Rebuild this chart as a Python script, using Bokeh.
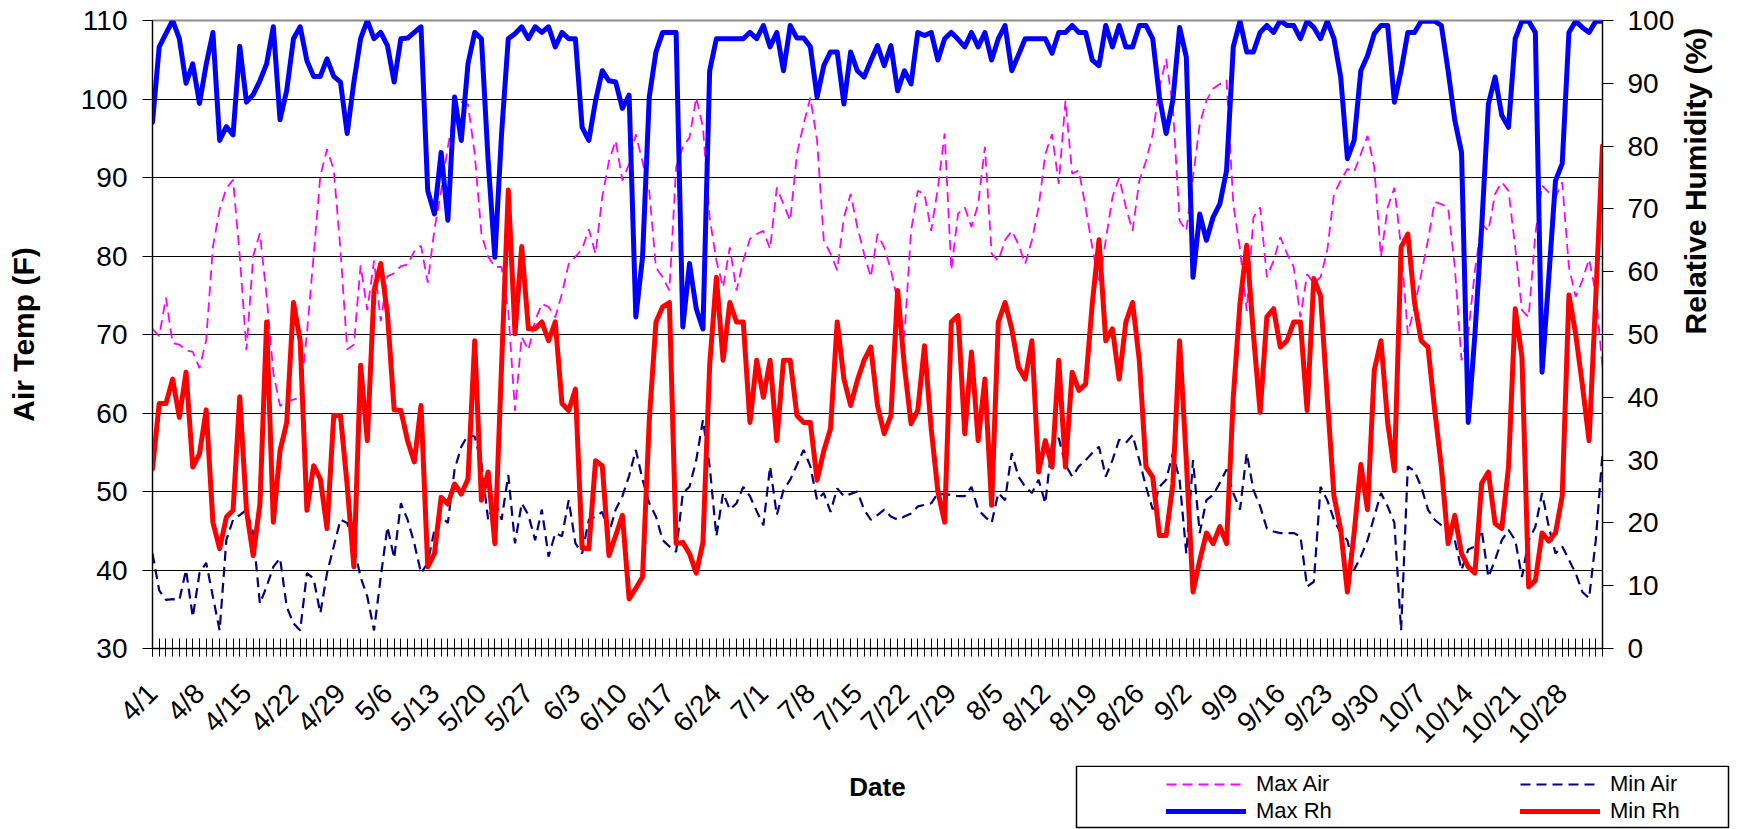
import math
from bokeh.plotting import figure
from bokeh.layouts import column
from bokeh.models import (Range1d, LinearAxis, FixedTicker, Legend, LegendItem,
                          BoxAnnotation, ColumnDataSource, Label)
from bokeh.embed import file_html
from bokeh.resources import INLINE

# Daily readings, 4/1 through 11/3 (one row = one week)
MAX_AIR = [
    70.7, 69.8, 74.7, 68.9, 68.7, 68.0, 67.8,
    65.7, 69.3, 81.2, 85.9, 88.6, 89.7, 80.0,
    68.0, 80.0, 82.9, 74.9, 65.1, 60.9, 61.5,
    61.7, 62.0, 70.1, 80.0, 90.2, 93.6, 91.0,
    80.8, 68.1, 68.7, 78.8, 73.1, 79.4, 71.7,
    77.4, 77.8, 78.7, 78.9, 80.6, 81.3, 76.6,
    83.4, 88.3, 93.9, 98.5, 99.6, 99.3, 93.0,
    82.8, 79.9, 78.6, 78.6, 73.0, 60.3, 69.7,
    68.0, 71.8, 73.9, 73.5, 72.2, 75.2, 79.0,
    79.9, 80.9, 83.4, 80.3, 87.5, 92.1, 94.7,
    89.6, 91.7, 95.5, 92.0, 88.3, 78.5, 77.3,
    75.6, 91.3, 93.9, 95.1, 100.2, 96.4, 84.9,
    79.4, 76.0, 81.1, 75.6, 79.4, 82.2, 82.8,
    83.2, 80.9, 88.7, 86.6, 84.5, 93.0, 96.8,
    100.2, 94.7, 82.0, 80.3, 78.2, 84.9, 87.9,
    83.7, 80.3, 77.3, 82.8, 81.1, 78.2, 74.3,
    69.7, 83.2, 88.3, 87.9, 83.2, 88.7, 95.6,
    78.2, 85.4, 86.2, 83.7, 86.6, 93.9, 80.3,
    79.4, 82.0, 83.2, 81.5, 79.0, 82.0, 86.2,
    93.0, 95.5, 89.2, 99.8, 90.5, 90.9, 86.2,
    81.1, 76.5, 82.0, 87.5, 90.0, 86.2, 83.2,
    89.6, 92.1, 95.5, 101.5, 105.1, 99.0, 84.5,
    83.2, 90.0, 96.8, 99.8, 101.3, 101.9, 102.4,
    86.6, 80.9, 73.0, 84.9, 86.2, 77.3, 79.4,
    82.4, 80.3, 78.6, 72.2, 77.7, 76.5, 77.3,
    80.7, 87.9, 89.6, 91.1, 90.7, 93.0, 95.3,
    91.3, 79.9, 86.2, 88.7, 81.1, 70.1, 73.5,
    77.7, 82.0, 86.9, 86.6, 86.2, 78.6, 66.7,
    70.1, 78.2, 84.1, 83.2, 87.9, 89.4, 88.3,
    81.1, 73.1, 72.2, 82.8, 89.0, 88.1, 87.5,
    89.4, 78.6, 74.8, 76.9, 79.6, 75.2, 65.8,
]

MIN_AIR = [
    42.1, 37.4, 36.2, 36.3, 36.2, 40.0, 34.0,
    39.6, 40.9, 36.6, 32.3, 43.8, 46.4, 47.0,
    47.7, 44.7, 35.7, 37.9, 40.4, 41.5, 35.3,
    33.2, 32.3, 39.6, 38.9, 34.5, 39.6, 43.0,
    46.4, 46.0, 43.0, 39.1, 36.6, 32.3, 39.1,
    45.5, 41.5, 48.5, 46.4, 43.4, 39.6, 40.9,
    45.1, 46.8, 46.0, 52.8, 55.7, 57.2, 57.0,
    53.6, 46.4, 48.9, 46.4, 52.1, 43.4, 48.5,
    47.0, 43.8, 47.7, 41.7, 44.7, 44.3, 48.9,
    43.4, 42.1, 46.4, 46.8, 47.4, 44.7, 47.7,
    49.4, 52.0, 55.3, 51.5, 48.5, 46.8, 43.8,
    43.0, 42.3, 49.8, 50.6, 54.0, 59.1, 53.2,
    44.3, 49.8, 47.7, 48.5, 50.6, 49.4, 47.5,
    45.7, 53.2, 47.0, 50.2, 51.5, 53.4, 55.3,
    53.2, 48.9, 49.8, 47.4, 50.4, 49.4, 49.7,
    50.0, 47.7, 46.4, 47.0, 47.7, 46.8, 46.4,
    46.8, 47.2, 48.1, 48.3, 48.5, 49.8, 49.6,
    49.6, 49.4, 49.4, 50.6, 47.7, 46.8, 46.0,
    49.8, 48.9, 54.9, 51.9, 50.6, 49.8, 51.5,
    48.5, 56.2, 56.8, 53.4, 51.9, 53.2, 54.0,
    54.9, 55.7, 51.9, 54.0, 56.6, 56.2, 57.2,
    54.0, 50.6, 47.7, 50.6, 51.5, 54.9, 51.5,
    42.1, 54.0, 44.7, 48.9, 49.6, 51.1, 52.8,
    49.8, 47.7, 54.9, 50.2, 48.1, 45.3, 44.9,
    44.7, 44.7, 44.7, 44.3, 37.9, 38.5, 50.6,
    48.9, 46.4, 44.7, 43.8, 40.0, 41.7, 43.8,
    46.8, 49.8, 48.1, 46.0, 32.3, 53.2, 52.6,
    50.6, 47.7, 46.4, 45.7, 45.5, 43.8, 40.0,
    42.6, 43.0, 45.1, 39.1, 41.3, 43.8, 45.1,
    43.8, 39.1, 43.8, 45.5, 49.8, 45.5, 42.1,
    43.0, 41.3, 39.6, 37.2, 36.4, 43.8, 54.9,
]

MAX_RH = [
    83.8, 95.8, 97.9, 100.0, 97.1, 90.0, 93.1,
    86.8, 93.0, 98.1, 80.9, 83.1, 81.8, 95.9,
    87.0, 88.2, 90.4, 93.1, 99.0, 84.2, 88.9,
    97.1, 99.0, 93.6, 91.1, 91.1, 93.9, 91.1,
    90.2, 82.0, 90.2, 97.1, 100.0, 97.1, 98.1,
    96.0, 90.2, 97.1, 97.2, 98.1, 99.0, 72.9,
    69.2, 79.0, 68.2, 87.8, 80.9, 93.1, 98.1,
    97.1, 77.7, 62.3, 82.0, 97.1, 97.9, 99.0,
    97.1, 99.0, 98.1, 99.0, 95.8, 98.1, 97.1,
    97.1, 83.0, 80.9, 87.2, 92.0, 90.4, 90.2,
    86.0, 88.1, 52.8, 62.3, 87.8, 95.0, 98.1,
    98.1, 98.1, 51.2, 61.3, 54.1, 50.9, 92.0,
    97.1, 97.1, 97.1, 97.1, 97.1, 98.1, 97.1,
    99.2, 95.8, 98.1, 92.0, 99.2, 97.2, 97.2,
    95.8, 87.8, 92.8, 95.0, 95.0, 86.7, 95.0,
    92.0, 91.0, 93.6, 96.0, 92.8, 96.0, 88.8,
    92.0, 89.9, 98.1, 97.6, 98.1, 93.7, 97.1,
    98.1, 97.0, 95.8, 98.1, 95.8, 98.1, 93.7,
    97.1, 99.2, 92.0, 94.5, 97.1, 97.1, 97.1,
    97.1, 94.8, 98.1, 98.1, 99.2, 98.1, 98.1,
    93.7, 92.8, 99.2, 95.8, 99.2, 95.8, 95.8,
    99.2, 99.2, 97.1, 87.8, 82.0, 87.3, 98.9,
    94.2, 59.1, 69.2, 65.0, 68.7, 70.8, 76.1,
    95.8, 99.9, 95.0, 95.0, 98.1, 99.2, 98.1,
    100.0, 99.2, 99.2, 97.1, 99.9, 98.9, 97.1,
    99.9, 97.1, 91.0, 78.0, 80.9, 92.0, 94.4,
    97.9, 99.2, 99.2, 87.0, 92.0, 98.1, 98.1,
    99.9, 99.9, 99.9, 99.2, 92.0, 84.1, 79.0,
    36.0, 50.1, 67.1, 86.7, 91.0, 84.9, 83.0,
    97.1, 99.9, 99.9, 98.1, 44.0, 59.1, 74.5,
    77.2, 98.1, 99.9, 98.9, 98.1, 99.9, 99.9,
]

MIN_RH = [
    28.6, 39.0, 39.0, 42.9, 36.8, 44.0, 28.9,
    31.0, 38.0, 20.1, 15.9, 20.9, 22.0, 40.1,
    22.0, 14.8, 23.0, 52.0, 20.1, 31.5, 36.0,
    55.1, 49.0, 22.0, 29.1, 27.0, 19.1, 37.1,
    37.1, 26.0, 13.0, 45.1, 33.1, 57.0, 61.3,
    53.3, 38.0, 37.9, 33.1, 29.7, 38.7, 13.0,
    15.1, 24.1, 23.0, 26.2, 24.6, 27.0, 49.0,
    23.6, 28.1, 16.7, 45.0, 73.0, 50.1, 64.0,
    50.9, 50.9, 52.0, 49.0, 52.0, 39.0, 37.9,
    41.3, 16.0, 15.9, 29.9, 29.1, 14.8, 18.0,
    21.2, 7.9, 9.6, 11.4, 36.3, 52.0, 54.4,
    55.1, 16.7, 16.9, 15.1, 12.0, 16.9, 45.1,
    59.1, 45.9, 55.1, 52.0, 52.0, 36.0, 45.9,
    40.0, 45.9, 33.1, 45.9, 45.9, 37.1, 36.0,
    36.0, 26.8, 31.5, 35.0, 52.0, 42.9, 38.7,
    42.7, 45.9, 48.0, 38.7, 34.2, 37.1, 57.0,
    45.0, 35.8, 37.9, 48.2, 35.0, 25.0, 20.1,
    52.0, 53.0, 34.2, 47.2, 33.1, 42.9, 22.8,
    52.0, 55.1, 50.9, 44.8, 42.9, 49.0, 28.1,
    33.1, 28.9, 45.9, 28.9, 44.0, 41.1, 42.1,
    55.0, 65.1, 49.0, 50.9, 42.9, 52.0, 55.1,
    45.9, 28.9, 27.3, 18.0, 18.0, 26.2, 49.0,
    30.0, 9.0, 14.0, 18.4, 16.7, 19.4, 16.7,
    40.0, 55.0, 64.2, 50.0, 37.6, 52.8, 54.1,
    48.0, 49.0, 52.0, 52.0, 37.9, 58.9, 56.2,
    40.0, 24.3, 18.9, 9.0, 18.4, 29.3, 22.1,
    44.3, 49.0, 36.0, 28.3, 63.9, 66.0, 55.1,
    49.0, 48.0, 38.0, 28.9, 16.7, 21.2, 15.1,
    13.0, 12.0, 26.3, 28.1, 19.9, 19.1, 28.9,
    54.1, 46.4, 9.8, 10.8, 18.4, 17.1, 18.4,
    24.3, 56.3, 50.1, 42.0, 33.1, 56.0, 80.0,
]

# weekly date labels on the category axis
TICK_LABELS = ["4/1", "4/8", "4/15", "4/22", "4/29", "5/6", "5/13", "5/20",
               "5/27", "6/3", "6/10", "6/17", "6/24", "7/1", "7/8", "7/15",
               "7/22", "7/29", "8/5", "8/12", "8/19", "8/26", "9/2", "9/9",
               "9/16", "9/23", "9/30", "10/7", "10/14", "10/21", "10/28"]

DAYS = list(range(len(MAX_AIR)))
FONT = "Liberation Sans"

STYLE_MAX_AIR = dict(line_color="#FF00FF", line_width=1.8, line_dash="10 6")
STYLE_MIN_AIR = dict(line_color="#000080", line_width=2.2, line_dash="10 6")
STYLE_MAX_RH = dict(line_color="#0000FF", line_width=5, line_join="round", line_cap="round")
STYLE_MIN_RH = dict(line_color="#FF0000", line_width=5, line_join="round", line_cap="round")

src = ColumnDataSource(dict(day=DAYS, max_air=MAX_AIR, min_air=MIN_AIR,
                            max_rh=MAX_RH, min_rh=MIN_RH))

# ---------------- main chart ----------------
p = figure(width=1742, height=765, output_backend="svg", toolbar_location=None,
           x_range=Range1d(0, DAYS[-1]), y_range=Range1d(30, 110),
           min_border_left=152, min_border_right=140,
           min_border_top=20, min_border_bottom=117)
p.extra_y_ranges = {"rh": Range1d(0, 100)}
p.background_fill_color = "white"
p.border_fill_color = "white"
p.outline_line_color = "#8c8c8c"
p.outline_line_width = 2

p.xgrid.visible = False
p.ygrid.ticker = FixedTicker(ticks=list(range(40, 101, 10)))
p.ygrid.grid_line_color = "black"
p.ygrid.grid_line_width = 1

xax = p.xaxis[0]
xax.ticker = FixedTicker(ticks=[7 * i for i in range(len(TICK_LABELS))],
                         minor_ticks=DAYS)
xax.major_label_overrides = {7 * i: lab for i, lab in enumerate(TICK_LABELS)}
xax.major_label_orientation = math.pi / 4
xax.major_label_text_font = FONT
xax.major_label_text_font_size = "28px"
xax.major_label_text_color = "black"
xax.major_label_standoff = 32
xax.major_tick_in = 10
xax.major_tick_out = 8
xax.minor_tick_in = 10
xax.minor_tick_out = 8
xax.major_tick_line_color = "black"
xax.minor_tick_line_color = "black"
xax.axis_line_color = "black"

yax = p.yaxis[0]
yax.ticker = FixedTicker(ticks=list(range(30, 111, 10)))
yax.major_tick_in = 0
yax.major_tick_out = 10
yax.minor_tick_line_color = None
yax.major_tick_line_color = "black"
yax.axis_line_color = "black"
yax.major_label_text_font = FONT
yax.major_label_text_font_size = "28px"
yax.major_label_text_color = "black"
yax.major_label_standoff = 15
yax.axis_label = "Air Temp (F)"
yax.axis_label_text_font = FONT
yax.axis_label_text_font_size = "30px"
yax.axis_label_text_font_style = "bold"
yax.axis_label_text_color = "black"
yax.axis_label_standoff = 38

rax = LinearAxis(y_range_name="rh", ticker=FixedTicker(ticks=list(range(0, 101, 10))),
                 axis_label="Relative Humidity (%)")
rax.major_tick_in = 0
rax.major_tick_out = 11
rax.minor_tick_line_color = None
rax.major_tick_line_color = "black"
rax.axis_line_color = "black"
rax.major_label_text_font = FONT
rax.major_label_text_font_size = "28px"
rax.major_label_text_color = "black"
rax.major_label_standoff = 14
rax.axis_label_text_font = FONT
rax.axis_label_text_font_size = "30px"
rax.axis_label_text_font_style = "bold"
rax.axis_label_text_color = "black"
rax.axis_label_standoff = 18
if "axis_label_orientation" in rax.properties():
    # read bottom-to-top, like the left title
    rax.axis_label_orientation = math.pi / 2
p.add_layout(rax, "right")

r_max_air = p.line("day", "max_air", source=src, **STYLE_MAX_AIR)
r_min_air = p.line("day", "min_air", source=src, **STYLE_MIN_AIR)
r_max_rh = p.line("day", "max_rh", source=src, y_range_name="rh", **STYLE_MAX_RH)
r_min_rh = p.line("day", "min_rh", source=src, y_range_name="rh", **STYLE_MIN_RH)

# ---------------- strip below: axis title and legend ----------------
W, H = 1742, 64
q = figure(frame_width=W, frame_height=H, output_backend="svg", toolbar_location=None,
           x_range=Range1d(0, W), y_range=Range1d(0, H),
           x_axis_type=None, y_axis_type=None,
           min_border=0, min_border_left=0, min_border_right=0,
           min_border_top=0, min_border_bottom=0)
for fig in (p, q):
    if "frame_align" in fig.properties():
        fig.frame_align = False
q.grid.visible = False
q.outline_line_color = None
q.background_fill_color = "white"
q.border_fill_color = "white"

q.add_layout(Label(x=877, y=43, text="Date", text_align="center",
                   text_baseline="middle", text_font=FONT,
                   text_font_size="26px", text_font_style="bold",
                   text_color="black"))

q.add_layout(BoxAnnotation(left=1076, right=1728, top=63.2, bottom=2,
                           fill_color="white", fill_alpha=1.0,
                           line_color="black", line_width=1.5, line_alpha=1.0))

NAN = float("nan")
k_max_air = q.line(x=[NAN], y=[NAN], **STYLE_MAX_AIR)
k_min_air = q.line(x=[NAN], y=[NAN], **STYLE_MIN_AIR)
k_max_rh = q.line(x=[NAN], y=[NAN], **STYLE_MAX_RH)
k_min_rh = q.line(x=[NAN], y=[NAN], **STYLE_MIN_RH)

ROW_H = 24

def legend_entry(label, renderer, x, yc):
    # one legend row, centred vertically on yc
    return Legend(items=[LegendItem(label=label, renderers=[renderer])],
                  location=(x, yc - ROW_H / 2), orientation="vertical",
                  padding=0, margin=0, spacing=0,
                  glyph_width=80, glyph_height=ROW_H, label_height=ROW_H,
                  label_standoff=10, label_text_font=FONT,
                  label_text_font_size="22px", label_text_color="black",
                  label_text_baseline="middle",
                  background_fill_alpha=0.0, border_line_alpha=0.0)

q.add_layout(legend_entry("Max Air", k_max_air, 1166, 44))
q.add_layout(legend_entry("Min Air", k_min_air, 1520, 44))
q.add_layout(legend_entry("Max Rh", k_max_rh, 1166, 17))
q.add_layout(legend_entry("Min Rh", k_min_rh, 1520, 17))

page = column(p, q, spacing=0)
open("out.html", "w").write(file_html(page, INLINE))
